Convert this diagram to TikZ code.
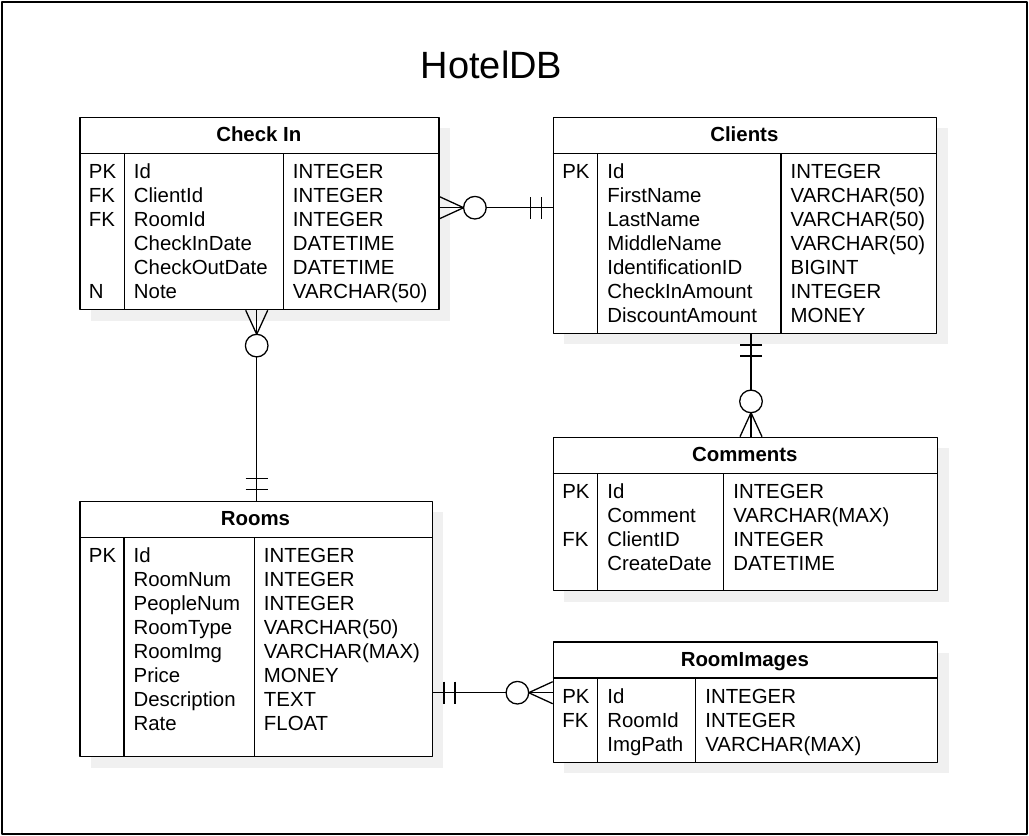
\documentclass[tikz,border=0pt]{standalone}
\usepackage{fontspec}
\setmainfont{Liberation Sans}
\usetikzlibrary{shadows}

\tikzset{
	entity/.style={draw, fill=white, anchor=north west, inner sep=0,
		drop shadow={shadow xshift=11pt, shadow yshift=-11pt, fill=black!6, opacity=1}},
	headtext/.style={font=\fontsize{20.4}{24}\selectfont\bfseries, anchor=base, inner sep=0},
	cell/.style={anchor=base west, inner sep=0},
	rel/.style={line width=1.3pt},
	zeromany/.pic={
		\draw (0,-11) -- (24,0) -- (0,11);
		\draw [fill=white] (35.3,0) circle (11.3);
	},
	onlyone/.pic={
		\draw (11,-11) -- (11,11) (22,-11) -- (22,11);
	}
}

% #1 name, #2 x, #3 y, #4 width, #5 height, #6 key column, #7 name column, #8 title, #9 rows
\newcommand{\ertable}[9]{%
	\node [entity, minimum width=#4, minimum height=#5] (#1) at (#2,#3) {};
	\node [headtext] (#1-title) at (#2+#4/2, #3+25) {#8};
	\draw (#2, #3+36.6) -- (#2+#4, #3+36.6)
	(#2+#6, #3+36.6) -- (#2+#6, #3+#5)
	(#2+#6+#7, #3+36.6) -- (#2+#6+#7, #3+#5);
	\foreach \ky/\nm/\tp [count=\i] in {#9} {
		\node [cell] (#1-k\i) at (#2+9, {#3+62.2+24*(\i-1)}) {\ky};
		\node [cell] (#1-n\i) at (#2+#6+9, {#3+62.2+24*(\i-1)}) {\nm};
		\node [cell] (#1-t\i) at (#2+#6+#7+9, {#3+62.2+24*(\i-1)}) {\tp};
	}%
}

\begin{document}
\begin{tikzpicture}[x=1pt, y=-1pt, line width=1.3pt, line join=round, font=\fontsize{20.4}{24}\selectfont]
	\useasboundingbox (0,0) rectangle (1029,836);
	\draw (2,2) rectangle (1027,834);
	\node [font=\fontsize{38}{42}\selectfont] (title) at (491.5,64.7) {HotelDB};
	%
	\ertable{checkin}{79.3}{116.7}{359}{192.3}{45}{159}{Check In}
	{PK/Id/INTEGER, FK/ClientId/INTEGER, FK/RoomId/INTEGER, {}/CheckInDate/DATETIME, {}/CheckOutDate/DATETIME, N/Note/VARCHAR(50)}
	\ertable{clients}{552.7}{116.7}{383.3}{216}{45}{183.3}{Clients}
	{PK/Id/INTEGER, {}/FirstName/VARCHAR(50), {}/LastName/VARCHAR(50), {}/MiddleName/VARCHAR(50), {}/IdentificationID/BIGINT, {}/CheckInAmount/INTEGER, {}/DiscountAmount/MONEY}
	\ertable{comments}{552.7}{436.7}{384.3}{153.3}{45}{126}{Comments}
	{PK/Id/INTEGER, {}/Comment/VARCHAR(MAX), FK/ClientID/INTEGER, {}/CreateDate/DATETIME}
	\ertable{rooms}{79.3}{500.7}{352.4}{255.3}{44.7}{130.3}{Rooms}
	{PK/Id/INTEGER, {}/RoomNum/INTEGER, {}/PeopleNum/INTEGER, {}/RoomType/VARCHAR(50), {}/RoomImg/VARCHAR(MAX), {}/Price/MONEY, {}/Description/TEXT, {}/Rate/FLOAT}
	\ertable{roomimages}{552.7}{641.3}{384.3}{120.4}{45}{98}{RoomImages}
	{PK/Id/INTEGER, FK/RoomId/INTEGER, {}/ImgPath/VARCHAR(MAX)}
	%
	\draw [rel] (checkin.east |- 0,207.7) coordinate (ci-cl) -- (clients.west |- 0,207.7) coordinate (cl-ci);
	\pic at (ci-cl) {zeromany};
	\pic [rotate=180] at (cl-ci) {onlyone};
	\draw [rel] (checkin.south -| 256.7,0) coordinate (ci-ro) -- (rooms.north -| 256.7,0) coordinate (ro-ci);
	\pic [rotate=-90] at (ci-ro) {zeromany};
	\pic [rotate=90] at (ro-ci) {onlyone};
	\draw [rel] (clients.south -| 751,0) coordinate (cl-co) -- (comments.north -| 751,0) coordinate (co-cl);
	\pic [rotate=-90] at (cl-co) {onlyone};
	\pic [rotate=90] at (co-cl) {zeromany};
	\draw [rel] (rooms.east |- 0,692.7) coordinate (ro-ri) -- (roomimages.west |- 0,692.7) coordinate (ri-ro);
	\pic at (ro-ri) {onlyone};
	\pic [rotate=180] at (ri-ro) {zeromany};
\end{tikzpicture}
\end{document}
